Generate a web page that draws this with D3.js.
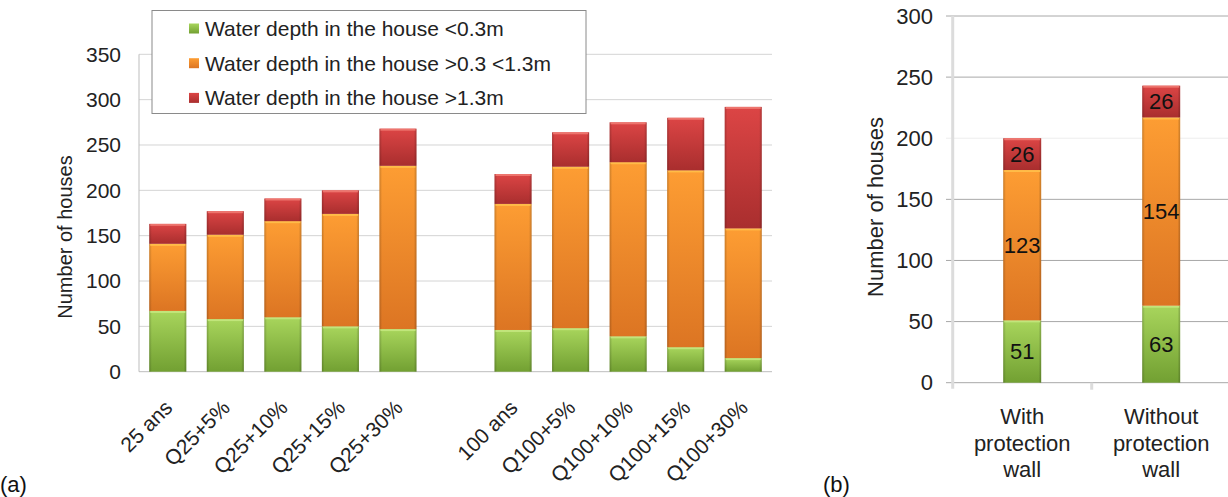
<!DOCTYPE html>
<html><head><meta charset="utf-8">
<script src="https://cdn.jsdelivr.net/npm/d3@7"></script>
<style>
body{margin:0;background:#fff;}
svg{display:block;font-family:"Liberation Sans",Arial,sans-serif;}
</style></head><body>
<svg id="c" width="1228" height="497"></svg>
<script>
// ---- Data ----
const seriesNames = ["Water depth in the house <0.3m","Water depth in the house >0.3 <1.3m","Water depth in the house >1.3m"];
const categoriesA = ["25 ans","Q25+5%","Q25+10%","Q25+15%","Q25+30%","","100 ans","Q100+5%","Q100+10%","Q100+15%","Q100+30%"];
const greenA  = [67,58,60,50,47,null,46,48,39,27,15];
const orangeA = [74,93,106,124,180,null,139,178,192,195,143];
const redA    = [22,26,25,26,41,null,33,38,44,58,134];
const ticksA = [0,50,100,150,200,250,300,350];

const categoriesB = ["With\nprotection\nwall","Without\nprotection\nwall"];
const greenB  = [51,63];
const orangeB = [123,154];
const redB    = [26,26];
const ticksB = [0,50,100,150,200,250,300];

const svg = d3.select("#c");
const defs = svg.append("defs");
const pal = [
  {id:"g", top:"#a8d55c", bot:"#72a032", hi:"#c4e77e"},
  {id:"o", top:"#fd9d33", bot:"#dc7523", hi:"#ffc04a"},
  {id:"r", top:"#dc4545", bot:"#a92e2e", hi:"#ee7a72"}
];
pal.forEach(p=>{
  const lg = defs.append("linearGradient").attr("id","grad"+p.id).attr("x1",0).attr("y1",0).attr("x2",0).attr("y2",1);
  lg.append("stop").attr("offset","0%").attr("stop-color",p.top);
  lg.append("stop").attr("offset","100%").attr("stop-color",p.bot);
});
const side = defs.append("linearGradient").attr("id","side").attr("x1",0).attr("y1",0).attr("x2",1).attr("y2",0);
side.append("stop").attr("offset","0%").attr("stop-color","#000").attr("stop-opacity",0.2);
side.append("stop").attr("offset","7%").attr("stop-color","#000").attr("stop-opacity",0);
side.append("stop").attr("offset","93%").attr("stop-color","#000").attr("stop-opacity",0);
side.append("stop").attr("offset","100%").attr("stop-color","#000").attr("stop-opacity",0.22);

function drawBars(g, cats, series, x, y, labels){
  const stackData = cats.map((c,i)=>({cat:c, v:series.map(s=>s[i])}));
  stackData.forEach(d=>{
    if(d.v[0]==null) return;
    let base = 0;
    d.v.forEach((val,k)=>{
      const y0 = y(base), y1 = y(base+val);
      const bx = x(d.cat), bw = x.bandwidth();
      g.append("rect").attr("x",bx).attr("y",y1).attr("width",bw).attr("height",y0-y1)
        .attr("fill","url(#grad"+pal[k].id+")");
      g.append("rect").attr("x",bx).attr("y",y1).attr("width",bw).attr("height",y0-y1)
        .attr("fill","url(#side)");
      g.append("rect").attr("x",bx+1).attr("y",y1).attr("width",bw-2).attr("height",2)
        .attr("fill",pal[k].hi).attr("opacity",0.9);
      if(labels){
        g.append("text").attr("x",bx+bw/2).attr("y",(y0+y1)/2).attr("dy","0.36em")
          .attr("text-anchor","middle").attr("font-size",22).attr("fill","#111").text(val);
      }
      base += val;
    });
  });
}

// ---- Chart (a) ----
{
  const x = d3.scaleBand().domain(categoriesA.map((c,i)=>i)).range([139,772]).paddingInner(0.356).paddingOuter(0.178);
  const y = d3.scaleLinear().domain([0,350]).range([371.7,54.3]);
  const g = svg.append("g");
  g.selectAll("line.grid").data(ticksA).join("line")
    .attr("x1",139).attr("x2",772).attr("y1",d=>y(d)).attr("y2",d=>y(d))
    .attr("stroke",d=>d===0?"#bdbdbd":"#d4d4d4").attr("stroke-width",1);
  g.append("line").attr("x1",139).attr("x2",139).attr("y1",y(350)).attr("y2",y(0)).attr("stroke","#bdbdbd");
  const yAxis = d3.axisLeft(y).tickValues(ticksA).tickSize(0).tickPadding(0);
  const ya = g.append("g").attr("transform","translate(121,0)").call(yAxis);
  ya.select(".domain").remove();
  ya.selectAll("text").attr("font-size",21).attr("fill","#222").attr("font-family","Liberation Sans, Arial, sans-serif");
  g.append("text").attr("transform","translate(72,237) rotate(-90)").attr("text-anchor","middle")
    .attr("font-size",20).attr("fill","#222").text("Number of houses");
  const idx = categoriesA.map((c,i)=>i);
  drawBars(g, idx, [greenA,orangeA,redA], x, y, false);
  categoriesA.forEach((c,i)=>{
    if(!c) return;
    const cx = x(i)+x.bandwidth()/2;
    g.append("text").attr("transform",`translate(${cx+6},409) rotate(-45)`)
      .attr("text-anchor","end").attr("font-size",21).attr("fill","#222").text(c);
  });
  const lg = g.append("g");
  lg.append("rect").attr("x",152).attr("y",10.5).attr("width",434).attr("height",103).attr("fill","#fff").attr("stroke","#8a8a8a");
  seriesNames.forEach((s,k)=>{
    const cy = 28.5 + k*34.7;
    lg.append("rect").attr("x",189).attr("y",cy-5).attr("width",10).attr("height",10).attr("fill","url(#grad"+pal[k].id+")");
    lg.append("text").attr("x",205).attr("y",cy).attr("dy","0.36em").attr("font-size",21).attr("fill","#222").text(s);
  });
  svg.append("text").attr("x",0).attr("y",492).attr("font-size",22).attr("fill","#111").text("(a)");
}

// ---- Chart (b) ----
{
  const x = d3.scaleBand().domain(categoriesB).range([952.7,1230.7]).paddingInner(0.727).paddingOuter(0.3635);
  const y = d3.scaleLinear().domain([0,300]).range([382.7,16]);
  const g = svg.append("g");
  g.selectAll("line.grid").data(ticksB).join("line")
    .attr("x1",946).attr("x2",1228).attr("y1",d=>y(d)).attr("y2",d=>y(d))
    .attr("stroke",d=>d===200?"#eeeeee":"#a8a8a8").attr("stroke-width",1);
  g.append("line").attr("x1",952.7).attr("x2",952.7).attr("y1",y(300)).attr("y2",y(0)+6).attr("stroke","#dcdcdc").attr("stroke-width",3);
  g.append("line").attr("x1",1091.7).attr("x2",1091.7).attr("y1",y(0)).attr("y2",y(0)+7).attr("stroke","#dcdcdc").attr("stroke-width",3);
  const yAxis = d3.axisLeft(y).tickValues(ticksB).tickSize(0).tickPadding(0);
  const ya = g.append("g").attr("transform","translate(933,0)").call(yAxis);
  ya.select(".domain").remove();
  ya.selectAll("text").attr("font-size",22).attr("fill","#222").attr("font-family","Liberation Sans, Arial, sans-serif");
  g.append("text").attr("transform","translate(883,207) rotate(-90)").attr("text-anchor","middle")
    .attr("font-size",22).attr("fill","#222").text("Number of houses");
  drawBars(g, categoriesB, [greenB,orangeB,redB], x, y, true);
  categoriesB.forEach(c=>{
    const cx = x(c)+x.bandwidth()/2;
    c.split("\n").forEach((line,j)=>{
      g.append("text").attr("x",cx).attr("y",424+j*26.5).attr("text-anchor","middle")
        .attr("font-size",22).attr("fill","#222").text(line);
    });
  });
  svg.append("text").attr("x",823).attr("y",492).attr("font-size",22).attr("fill","#111").text("(b)");
}
</script>
</body></html>
